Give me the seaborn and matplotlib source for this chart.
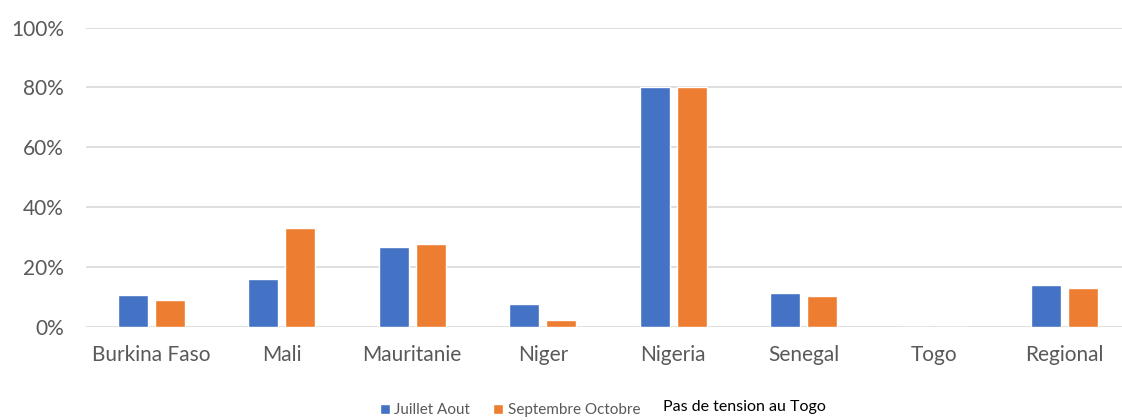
import matplotlib
matplotlib.use("Agg")
import matplotlib.pyplot as plt
import seaborn as sns
import pandas as pd
from matplotlib.ticker import PercentFormatter

# data
countries = ["Burkina Faso", "Mali", "Mauritanie", "Niger", "Nigeria", "Senegal", "Togo", "Regional"]
juillet_aout = [0.107, 0.160, 0.267, 0.077, 0.80, 0.115, 0.0, 0.140]
sept_oct = [0.090, 0.331, 0.277, 0.022, 0.80, 0.103, 0.0, 0.130]
series_names = ["Juillet Aout", "Septembre Octobre"]
colors = ["#4472C4", "#ED7D31"]
note = "Pas de tension au Togo"

df = pd.DataFrame({"pays": countries, series_names[0]: juillet_aout, series_names[1]: sept_oct})
dfm = df.melt(id_vars="pays", var_name="periode", value_name="part")

sns.set_style("white")
plt.rcParams["font.family"] = ["Lato", "DejaVu Sans"]

fig = plt.figure(figsize=(11.22, 4.2), dpi=100)
ax = fig.add_axes([86 / 1122, 93 / 420, (1122 - 86) / 1122, 299.5 / 420])

sns.barplot(data=dfm, x="pays", y="part", hue="periode", palette=colors,
            width=0.568, gap=0.19, ax=ax, legend=True, saturation=1)

ax.set_xlim(-0.5, -0.5 + (1122 - 86) / 130.5)
ax.set_ylim(0, 1)
ax.set_yticks([0, 0.2, 0.4, 0.6, 0.8, 1.0])
ax.yaxis.set_major_formatter(PercentFormatter(1.0, decimals=0))
ax.grid(axis="y", color="#d9d9d9", linewidth=1.2)
ax.set_axisbelow(True)
for s in ax.spines.values():
    s.set_visible(False)
ax.tick_params(axis="both", length=0, labelsize=15, colors="#595959")
ax.tick_params(axis="x", pad=13)
ax.tick_params(axis="y", pad=16)
ax.set(xlabel="", ylabel="")

handles, labels = ax.get_legend_handles_labels()
ax.get_legend().remove()
fig.legend(handles, labels, loc="center left", bbox_to_anchor=(366 / 1122, 1 - 410 / 420),
           ncol=2, frameon=False, fontsize=11, handlelength=0.65, handleheight=0.65,
           handletextpad=0.3, columnspacing=1.5, labelcolor="#595959")
fig.text(663 / 1122, 1 - 407 / 420, note, fontsize=11.5, color="black", va="center", ha="left")

fig.savefig("out.png", dpi=100)
